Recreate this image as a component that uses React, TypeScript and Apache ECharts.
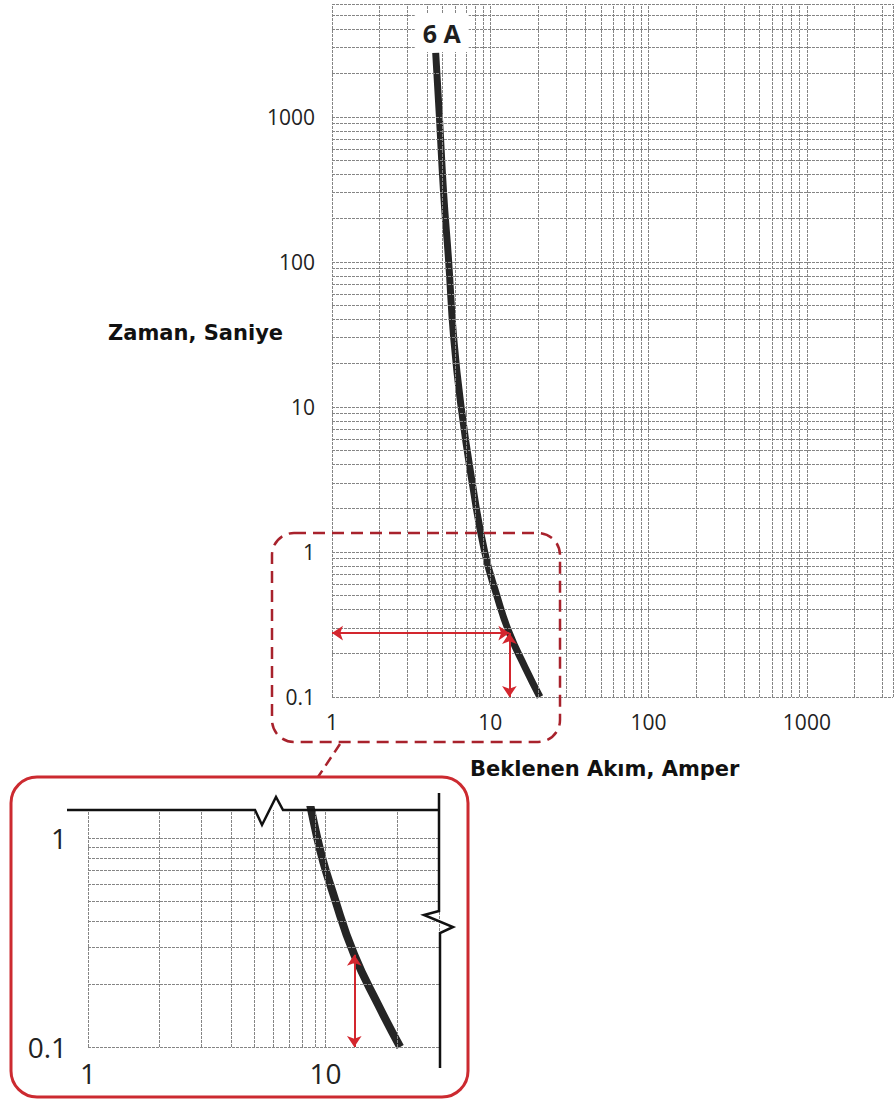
import React, { useEffect, useRef } from "react";
import * as echarts from "echarts";

// Fuse characteristic (6 A): prospective current (A) vs. time (s)
const seriesName = "6 A";
const curveCurrent = [4.52, 4.77, 5.07, 5.46, 5.87, 6.54, 7.69, 9.22, 11.0, 13.2, 16.6, 20.6];
const curveTime = [2760, 1000, 300, 100, 30, 10, 3, 1, 0.5, 0.276, 0.16, 0.1];

// Read-off example (red arrows)
const arrowCurrent = 13.2;
const arrowTime = 0.276;

// Tick labels
const xTickLabels = [1, 10, 100, 1000];
const yTickLabels = [0.1, 1, 10, 100, 1000];
const insetXTickLabels = [1, 10];
const insetYTickLabels = [0.1, 1];

// Log-paper grid lines
const xGridValues = [1, 2, 3, 4, 5, 6, 7, 8, 9, 10, 20, 30, 40, 50, 60, 70, 80, 90, 100, 200, 300, 400, 500, 600, 700, 800, 900, 1000, 2000, 3000, 3500];
const yGridValues = [0.1, 0.2, 0.3, 0.4, 0.5, 0.6, 0.7, 0.8, 0.9, 1, 2, 3, 4, 5, 6, 7, 8, 9, 10, 20, 30, 40, 50, 60, 70, 80, 90, 100, 200, 300, 400, 500, 600, 700, 800, 900, 1000, 2000, 3000, 4000, 5000, 6000];
const insetXGridValues = [1, 2, 3, 4, 5, 6, 7, 8, 9, 10, 20, 30];
const insetYGridValues = [0.1, 0.2, 0.3, 0.4, 0.5, 0.6, 0.7, 0.8, 0.9, 1];

const xTitle = "Beklenen Akım, Amper";
const yTitle = "Zaman, Saniye";

const fmt = (labels: number[]) => (v: number) => {
  const m = labels.find((l) => Math.abs(Math.log10(l) - Math.log10(v)) < 1e-6);
  return m === undefined ? "" : String(m);
};

const labelFont = "Open Sans";
const gridLineStyle = { color: "#858585", width: 1, type: [3, 1] as any };
const red = "#d3262e";

export default function App() {
  const ref = useRef<HTMLDivElement>(null);
  useEffect(() => {
    if (!ref.current) return;
    const chart = echarts.init(ref.current, null, { renderer: "svg" });
    const curveData = curveCurrent.map((x, i) => [x, curveTime[i]]);
    const gridMarks = (xs: number[], ys: number[]) => ({
      silent: true,
      symbol: ["none", "none"],
      label: { show: false },
      lineStyle: gridLineStyle,
      emphasis: { disabled: true },
      data: [...xs.map((v) => ({ xAxis: v })), ...ys.map((v) => ({ yAxis: v }))],
    });
    const arrowMark = (lines: any[]) => ({
      silent: true,
      symbol: ["arrow", "arrow"],
      symbolSize: 11,
      label: { show: false },
      lineStyle: { color: red, width: 2, type: "solid" },
      itemStyle: { color: red },
      emphasis: { disabled: true },
      data: lines,
    });
    const option: any = {
      animation: false,
      backgroundColor: "#ffffff",
      grid: [
        { left: 332, top: 4, width: 564, height: 693 },
        { left: 88, top: 810, width: 351, height: 237 },
      ],
      xAxis: [
        {
          type: "log", logBase: 10, gridIndex: 0, min: 1, max: 3500,
          axisLine: { show: false }, axisTick: { show: false }, splitLine: { show: false },
          axisLabel: { formatter: fmt(xTickLabels), fontSize: 21, color: "#222", fontFamily: labelFont, margin: 14 },
        },
        {
          type: "log", logBase: 10, gridIndex: 1, min: 1, max: 30,
          axisLine: { show: false }, axisTick: { show: false }, splitLine: { show: false },
          axisLabel: { formatter: fmt(insetXTickLabels), fontSize: 28, color: "#222", fontFamily: labelFont, margin: 12 },
        },
      ],
      yAxis: [
        {
          type: "log", logBase: 10, gridIndex: 0, min: 0.1, max: 6000,
          axisLine: { show: false }, axisTick: { show: false }, splitLine: { show: false },
          axisLabel: { formatter: fmt(yTickLabels), fontSize: 21, color: "#222", fontFamily: labelFont, margin: 17 },
        },
        {
          type: "log", logBase: 10, gridIndex: 1, min: 0.1, max: 1.36,
          axisLine: { show: false }, axisTick: { show: false }, splitLine: { show: false },
          axisLabel: { formatter: fmt(insetYTickLabels), fontSize: 28, color: "#222", fontFamily: labelFont, margin: 21 },
        },
      ],
      series: [
        {
          type: "line", xAxisIndex: 0, yAxisIndex: 0, data: [], silent: true, z: 1,
          markLine: gridMarks(xGridValues, yGridValues),
        },
        {
          name: seriesName, type: "line", xAxisIndex: 0, yAxisIndex: 0, data: curveData,
          smooth: 0.5, showSymbol: false, symbol: "none", silent: true, z: 3,
          lineStyle: { color: "#252525", width: 7 },
          markPoint: {
            silent: true,
            data: [
              {
                coord: [curveCurrent[0], curveTime[0]],
                symbol: "rect", symbolSize: [54, 38], symbolOffset: [6, -20],
                itemStyle: { color: "#ffffff" },
                label: { show: true, position: "inside", formatter: seriesName, fontSize: 25, fontWeight: "bold", color: "#1e1e1e", fontFamily: labelFont },
              },
            ],
          },
        },
        {
          type: "line", xAxisIndex: 0, yAxisIndex: 0, data: [], silent: true, z: 5,
          markLine: arrowMark([
            [{ coord: [1, arrowTime] }, { coord: [arrowCurrent, arrowTime] }],
            [{ coord: [arrowCurrent, 0.1] }, { coord: [arrowCurrent, arrowTime] }],
          ]),
        },
        {
          type: "line", xAxisIndex: 1, yAxisIndex: 1, data: [], silent: true, z: 1,
          markLine: gridMarks(insetXGridValues, insetYGridValues),
        },
        {
          name: seriesName, type: "line", xAxisIndex: 1, yAxisIndex: 1, data: curveData,
          smooth: 0.5, showSymbol: false, symbol: "none", silent: true, z: 3, clip: true,
          lineStyle: { color: "#252525", width: 8 },
        },
        {
          type: "line", xAxisIndex: 1, yAxisIndex: 1, data: [], silent: true, z: 5,
          markLine: arrowMark([[{ coord: [arrowCurrent, 0.1] }, { coord: [arrowCurrent, arrowTime] }]]),
        },
      ],
      graphic: [
        {
          type: "rect", z: 100, silent: true,
          shape: { x: 272, y: 533, width: 288, height: 209, r: 22 },
          style: { fill: "none", stroke: "#a8222c", lineWidth: 2.5, lineDash: [12, 7] },
        },
        {
          type: "line", z: 100, silent: true,
          shape: { x1: 340, y1: 744, x2: 318, y2: 777 },
          style: { stroke: "#a8222c", lineWidth: 2.5, lineDash: [10, 6] },
        },
        {
          type: "rect", z: 100, silent: true,
          shape: { x: 11, y: 777, width: 457, height: 320, r: 26 },
          style: { fill: "none", stroke: "#cc2a30", lineWidth: 3 },
        },
        {
          type: "polyline", z: 100, silent: true,
          shape: { points: [[67, 810], [255, 810], [262, 825], [276, 797], [283, 810], [439, 810]] },
          style: { fill: "none", stroke: "#111", lineWidth: 2.5 },
        },
        {
          type: "polyline", z: 100, silent: true,
          shape: { points: [[439, 793], [439, 911], [424, 915], [453, 927], [440, 933], [440, 1068]] },
          style: { fill: "none", stroke: "#111", lineWidth: 2.5 },
        },
        {
          type: "text", z: 100, silent: true, x: 108, y: 333,
          style: { text: yTitle, font: 'bold 21px "DejaVu Sans"', fill: "#111", verticalAlign: "middle" },
        },
        {
          type: "text", z: 100, silent: true, x: 470, y: 769,
          style: { text: xTitle, font: 'bold 21px "DejaVu Sans"', fill: "#111", verticalAlign: "middle" },
        },
      ],
    };
    chart.setOption(option);
    return () => chart.dispose();
  }, []);
  return (
    <div
      ref={ref}
      style={{ position: "absolute", left: 0, top: 0, width: 896, height: 1099 }}
    />
  );
}
